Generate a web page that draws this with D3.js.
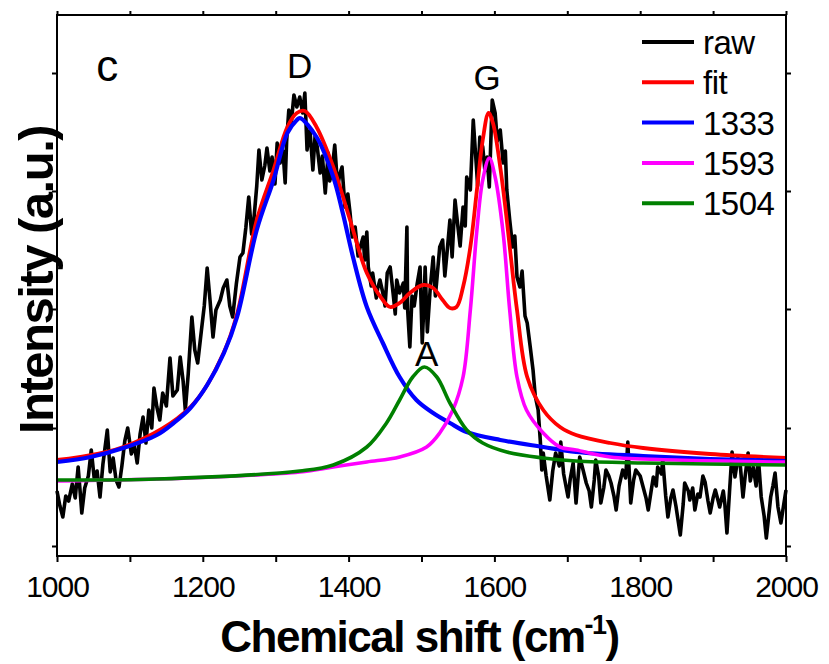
<!DOCTYPE html>
<html><head><meta charset="utf-8">
<script src="https://cdn.jsdelivr.net/npm/d3@7"></script>
<style>
html,body{margin:0;padding:0;background:#fff;}
svg{display:block;font-family:"Liberation Sans",Arial,sans-serif;}
</style></head>
<body>
<div id="chart"></div>
<script>
// ---------- data ----------
const xTicks = [1000, 1200, 1400, 1600, 1800, 2000];
const xMinorTicks = [1100, 1300, 1500, 1700, 1900];
const yTicks = [0, 118, 237, 355, 473];

const rawX = [1000,1004,1008,1012,1016,1021,1025,1029,1032,1034,1038,1043,1047,1051,1055,1059,1063,1069,1073,1077,1081,1085,1089,1093,1097,1102,1106,1110,1114,1118,1122,1126,1130,1133,1137,1141,1145,1150,1155,1159,1165,1169,1173,1176,1180,1185,1189,1193,1198,1202,1206,1210,1214,1218,1224,1228,1233,1237,1241,1246,1251,1255,1259,1263,1267,1270,1274,1277,1281,1285,1288,1292,1295,1299,1302,1306,1310,1313,1315,1318,1321,1325,1329,1333,1337,1340,1343,1347,1351,1354,1357,1361,1364,1368,1372,1374,1377,1381,1385,1388,1391,1395,1399,1402,1405,1409,1413,1416,1420,1422,1425,1427,1431,1433,1438,1440,1443,1447,1450,1453,1457,1461,1464,1466,1470,1475,1477,1480,1481,1484,1487,1490,1494,1498,1501,1503,1505,1508,1512,1516,1519,1521,1525,1529,1532,1535,1539,1542,1546,1550,1553,1557,1560,1562,1567,1571,1575,1577,1580,1584,1587,1590,1593,1597,1601,1604,1608,1612,1615,1617,1621,1625,1628,1631,1635,1638,1642,1645,1649,1653,1656,1660,1663,1665,1667,1671,1676,1680,1684,1689,1691,1695,1701,1704,1708,1712,1717,1722,1726,1730,1733,1737,1739,1743,1746,1750,1753,1757,1760,1764,1767,1771,1776,1780,1783,1787,1791,1794,1800,1804,1808,1811,1815,1818,1822,1824,1829,1831,1835,1838,1842,1845,1849,1855,1859,1861,1866,1868,1872,1875,1879,1882,1886,1889,1893,1896,1900,1903,1907,1909,1914,1916,1919,1923,1926,1930,1934,1937,1941,1944,1948,1951,1955,1959,1962,1966,1970,1973,1977,1979,1982,1985,1989,1993,1997,2000];
const rawY = [55,40,29,50,45,62,48,79,52,33,58,70,96,68,75,49,82,116,74,88,66,59,80,105,118,92,101,83,112,129,103,136,118,158,139,126,153,140,188,150,156,189,165,136,172,229,196,183,215,240,278,245,209,236,246,258,266,240,229,262,289,293,318,349,312,326,360,396,366,380,398,375,389,362,403,383,395,363,405,436,420,451,439,449,433,453,396,416,376,410,399,373,390,353,393,365,373,401,359,372,379,339,352,333,309,319,290,299,309,286,314,279,260,273,248,258,266,253,240,273,279,253,232,266,253,263,238,319,236,199,250,240,262,279,203,236,279,214,258,289,250,266,299,306,270,293,326,289,346,319,300,339,320,369,356,426,383,360,409,399,375,389,359,446,433,405,416,383,395,356,326,299,310,269,259,275,230,223,200,176,150,136,105,76,93,70,46,75,93,80,104,72,49,67,83,43,89,75,63,55,39,66,86,70,43,58,76,70,63,50,36,60,76,68,104,43,66,76,70,59,48,36,55,69,60,79,72,86,50,29,48,56,40,11,42,63,55,46,58,36,52,49,70,64,45,33,48,56,45,39,55,43,13,60,94,69,88,83,49,70,93,65,79,60,89,49,30,8,35,49,60,73,39,23,42,56];

const fitX = [1000,1091,1183,1229,1247,1274,1297,1316,1329,1340,1356,1379,1402,1425,1447,1457,1470,1484,1502,1516,1529,1539,1548,1557,1567,1576,1584,1592,1598,1608,1617,1626,1631,1645,1667,1690,1712,1759,1804,1896,2000];
const fitY = [86,99,139,194,232,326,376,419,433,435,419,379,326,273,246,239,243,253,261,258,246,238,239,259,299,356,406,433,423,379,326,266,236,169,136,119,111,103,98,92,88];

const p1333X = [1000,1046,1091,1137,1160,1183,1206,1229,1247,1274,1297,1316,1329,1333,1356,1379,1392,1406,1425,1447,1470,1493,1516,1539,1562,1608,1667,1712,1804,1896,2000];
const p1333Y = [84,89,98,111,123,138,161,193,229,316,366,413,426,428,409,369,333,289,239,203,169,146,133,123,114,106,99,94,90,87,85];

const p1593X = [1000,1182,1333,1379,1425,1470,1507,1525,1543,1557,1567,1576,1584,1593,1601,1612,1621,1631,1644,1667,1690,1712,1759,1849,2000];
const p1593Y = [65,68,74,79,84,89,99,113,136,169,236,316,366,388,369,313,236,169,136,113,99,96,89,86,84];

const p1504X = [1000,1137,1333,1379,1425,1452,1470,1488,1504,1521,1539,1562,1584,1617,1667,1712,1804,2000];
const p1504Y = [66,67,75,81,99,123,146,169,179,169,143,116,103,94,88,85,83,81];

const legendNames = ["raw", "fit", "1333", "1593", "1504"];
const legendColors = ["#000000", "#ff0000", "#0000ff", "#ff00ff", "#008000"];

const peakLabels = ["c", "D", "G", "A"];
const peakLabelX = [1069, 1333, 1590, 1507];
const peakLabelY = [465, 468, 456, 180];

// ---------- layout ----------
const W = 829, H = 664;
const L = 57, R = 786, T = 15, B = 556;

const svg = d3.select("#chart").append("svg").attr("width", W).attr("height", H);

const x = d3.scaleLinear().domain([1000, 2000]).range([L, R]);
const y = d3.scaleLinear().domain([-10, 531]).range([B, T]);

const lineGen = (xs, ys, curve) => d3.line()
  .x((d, i) => x(xs[i])).y((d, i) => y(ys[i])).curve(curve)(ys);

const g = svg.append("g");
// raw
g.append("path").attr("d", lineGen(rawX, rawY, d3.curveLinear))
  .attr("fill", "none").attr("stroke", "#000").attr("stroke-width", 3.6)
  .attr("stroke-linejoin", "round");
// fit and components
g.append("path").attr("d", lineGen(fitX, fitY, d3.curveCatmullRom))
  .attr("fill", "none").attr("stroke", "#ff0000").attr("stroke-width", 3.8);
g.append("path").attr("d", lineGen(p1333X, p1333Y, d3.curveCatmullRom))
  .attr("fill", "none").attr("stroke", "#0000ff").attr("stroke-width", 4.2);
g.append("path").attr("d", lineGen(p1593X, p1593Y, d3.curveCatmullRom))
  .attr("fill", "none").attr("stroke", "#ff00ff").attr("stroke-width", 3.6);
g.append("path").attr("d", lineGen(p1504X, p1504Y, d3.curveCatmullRom))
  .attr("fill", "none").attr("stroke", "#008000").attr("stroke-width", 3.6);

// axes
const allX = xTicks.concat(xMinorTicks);
const axB = d3.axisBottom(x).tickValues(allX).tickSize(6).tickFormat(d => xTicks.includes(d) ? d : "");
const axT = d3.axisTop(x).tickValues(allX).tickSize(4).tickFormat("");
const axL = d3.axisLeft(y).tickValues(yTicks).tickSize(5).tickFormat("");
const axR = d3.axisRight(y).tickValues(yTicks).tickSize(5).tickFormat("");

function styleAxis(sel) {
  sel.select(".domain").remove();
  sel.selectAll(".tick line").attr("stroke", "#000").attr("stroke-width", 2);
}
const gB = svg.append("g").attr("transform", `translate(0,${B})`).call(axB).call(styleAxis);
gB.selectAll(".tick text").attr("font-size", 30).attr("fill", "#000")
  .attr("font-family", "'Liberation Sans',Arial,sans-serif").attr("dy", "1.05em").attr("letter-spacing", "-1");
svg.append("g").attr("transform", `translate(0,${T})`).call(axT).call(styleAxis);
svg.append("g").attr("transform", `translate(${L},0)`).call(axL).call(styleAxis);
svg.append("g").attr("transform", `translate(${R},0)`).call(axR).call(styleAxis);

svg.append("rect").attr("x", L).attr("y", T).attr("width", R - L).attr("height", B - T)
  .attr("fill", "none").attr("stroke", "#000").attr("stroke-width", 2);

// axis titles
const xt = svg.append("text").attr("x", (L + R) / 2 - 2).attr("y", 652)
  .attr("text-anchor", "middle").attr("font-size", 44).attr("font-weight", "bold")
  .attr("letter-spacing", "-1.5");
xt.append("tspan").text("Chemical shift (cm");
xt.append("tspan").attr("font-size", 27).attr("dy", -18).text("-1");
xt.append("tspan").attr("dy", 18).text(")");

svg.append("text").attr("transform", `translate(53,${280}) rotate(-90)`)
  .attr("text-anchor", "middle").attr("font-size", 49).attr("font-weight", "bold")
  .attr("letter-spacing", "-1.5").text("Intensity (a.u.)");

// peak labels
svg.selectAll("text.pk").data(peakLabels).join("text").attr("class", "pk")
  .attr("x", (d, i) => x(peakLabelX[i])).attr("y", (d, i) => y(peakLabelY[i]))
  .attr("text-anchor", "middle").attr("font-size", (d, i) => i === 0 ? 44 : 35)
  .text(d => d);

// legend
const lg = svg.append("g");
legendNames.forEach((n, i) => {
  const yy = 42 + i * 40.3;
  lg.append("line").attr("x1", 642).attr("x2", 694).attr("y1", yy).attr("y2", yy)
    .attr("stroke", legendColors[i]).attr("stroke-width", 4);
  lg.append("text").attr("x", 703).attr("y", yy + 12).attr("font-size", 33)
    .attr("letter-spacing", "-0.5").text(n);
});
</script>
</body></html>
